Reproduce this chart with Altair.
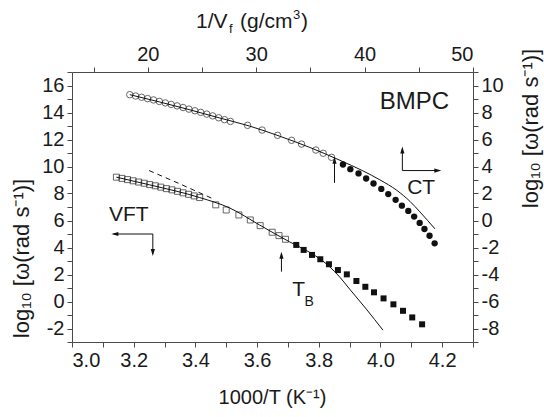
import altair as alt
import pandas as pd

# ---- VFT series (bottom axis 1000/T, left axis log10 omega) ----
vft_open_x = [3.144, 3.162, 3.180, 3.198, 3.216, 3.234, 3.252, 3.270, 3.288, 3.306, 3.324, 3.342,
              3.360, 3.378, 3.396, 3.414, 3.466, 3.500, 3.541, 3.578, 3.610, 3.649, 3.671, 3.692]
vft_open_y = [9.21, 9.12, 9.03, 8.94, 8.85, 8.76, 8.66, 8.57, 8.47, 8.36, 8.27, 8.16,
              8.05, 7.94, 7.82, 7.70, 7.16, 6.78, 6.41, 6.04, 5.62, 5.13, 4.88, 4.61]
vft_fill_x = [3.727, 3.751, 3.778, 3.805, 3.833, 3.862, 3.891, 3.922, 3.951, 3.979, 4.010, 4.042,
              4.073, 4.103, 4.135]
vft_fill_y = [4.19, 3.82, 3.45, 3.13, 2.76, 2.33, 2.01, 1.52, 1.09, 0.68, 0.23, -0.21,
              -0.69, -1.18, -1.69]
vft_fit_x = [3.144, 3.252, 3.414, 3.511, 3.608, 3.706, 3.754, 3.790, 3.835, 3.868, 3.900, 3.954, 4.008]
vft_fit_y = [9.21, 8.64, 7.70, 6.93, 5.67, 4.41, 3.85, 3.37, 2.58, 1.81, 0.92, -0.56, -2.12]
vft_dash_x = [3.250, 3.349, 3.453]
vft_dash_y = [9.70, 8.72, 7.65]

# ---- CT series (top axis 1/Vf, right axis log10 omega) ----
ct_open_x = [18.33, 18.87, 19.42, 19.97, 20.52, 21.06, 21.61, 22.15, 22.70, 23.25, 23.79, 24.34,
             24.88, 25.43, 25.98, 26.53, 27.07, 27.62, 29.20, 30.54, 31.97, 33.26, 34.18, 35.50,
             36.18, 36.95]
ct_open_y = [9.32, 9.22, 9.13, 9.03, 8.93, 8.82, 8.71, 8.60, 8.49, 8.37, 8.25, 8.13,
             8.01, 7.88, 7.75, 7.61, 7.47, 7.34, 7.05, 6.70, 6.31, 5.94, 5.66, 5.22,
             4.98, 4.68]
ct_fill_x = [38.00, 38.68, 39.44, 40.14, 40.82, 41.54, 42.18, 42.86, 43.44, 44.03, 44.57, 45.08,
             45.52, 45.99, 46.46]
ct_fill_y = [4.15, 3.80, 3.49, 3.11, 2.74, 2.34, 1.96, 1.53, 1.10, 0.71, 0.29, -0.18,
             -0.63, -1.13, -1.69]
ct_fit_x = [18.33, 21.10, 23.87, 26.64, 29.41, 32.18, 34.95, 37.72, 39.84, 41.41, 42.98, 44.18,
            45.10, 46.49]
ct_fit_y = [9.32, 8.78, 8.20, 7.59, 6.99, 6.24, 5.41, 4.46, 3.68, 3.01, 2.23, 1.42, 0.64, -0.62]

# ---- tick values ----
bottom_ticks = [round(3.0 + 0.1 * i, 1) for i in range(14)]
left_ticks = list(range(-3, 18))
top_ticks = list(range(15, 51, 5))
right_ticks = list(range(-9, 12))

# ---- annotations (in bottom/left data units) ----
labels_txt = ["BMPC", "CT", "VFT", "T"]
labels_x = [4.110, 4.132, 3.184, 3.735]
labels_y = [14.80, 8.42, 6.38, 0.85]
labels_size = [24, 21, 21, 21]
sub_txt = ["B"]
sub_x = [3.769]
sub_y = [-0.04]

# arrow shafts
shaft_x = [4.071, 4.071, 3.262, 3.262, 3.679, 3.851]
shaft_y = [9.70, 9.70, 5.00, 5.00, 2.21, 8.79]
shaft_x2 = [4.071, 4.190, 3.262, 3.135, 3.679, 3.851]
shaft_y2 = [11.30, 9.70, 3.55, 5.00, 3.50, 10.55]
# arrow heads
head_x = [4.071, 4.186, 3.139, 3.262, 3.679, 3.851]
head_y = [11.22, 9.70, 5.00, 3.63, 3.43, 10.46]
head_dir = ["up", "right", "left", "down", "up", "up"]

FONT = "Liberation Sans"
AX = "#4a4a4a"
TXT = "#1a1a1a"
INK = "#111111"
YTITLE = "log\u2081\u2080 [\u03c9(rad s\u207b\u00b9)]"

def axis_common(**kw):
    base = dict(grid=False, domainColor=AX, domainWidth=1, tickColor=AX, tickWidth=1, tickSize=5,
                labelFont=FONT, labelFontSize=20, labelColor=TXT, labelPadding=3,
                titleFont=FONT, titleFontSize=20, titleFontWeight="normal", titleColor=TXT)
    base.update(kw)
    return alt.Axis(**base)

ax_bottom = axis_common(orient="bottom", values=bottom_ticks,
                        labelExpr="round(datum.value*10) % 2 == 0 ? format(datum.value, '.1f') : ''",
                        title="1000/T (K\u207b\u00b9)", titleX=200, titleY=61,
                        titleBaseline="alphabetic", titleAlign="center", titleAngle=0)
ax_left = axis_common(orient="left", values=left_ticks,
                      labelExpr="datum.value % 2 == 0 ? '' + datum.value : ''",
                      title=YTITLE, titleFontSize=22, titleX=-44, titleY=186,
                      titleAngle=270, titleBaseline="alphabetic", titleAlign="center")
ax_top = axis_common(orient="top", values=top_ticks,
                     labelExpr="datum.value % 10 == 0 ? '' + datum.value : ''", title=None)
ax_right = axis_common(orient="right", values=right_ticks,
                       labelExpr="datum.value % 2 == 0 ? '' + datum.value : ''",
                       title=YTITLE, titleFontSize=22, titleX=64, titleY=56,
                       titleAngle=270, titleBaseline="alphabetic", titleAlign="center")

sx_b = alt.Scale(domain=[3.0, 4.3], nice=False, zero=False)
sy_l = alt.Scale(domain=[-3, 17], nice=False, zero=False)
sx_t = alt.Scale(domain=[13, 50], nice=False, zero=False)
sy_r = alt.Scale(domain=[-9, 11], nice=False, zero=False)

XB = alt.X("x:Q", scale=sx_b, axis=ax_bottom)
YL = alt.Y("y:Q", scale=sy_l, axis=ax_left)
XT = alt.X("x:Q", scale=sx_t, axis=ax_top)
YR = alt.Y("y:Q", scale=sy_r, axis=ax_right)

df = lambda xs, ys: pd.DataFrame({"x": xs, "y": ys})

vft_open = alt.Chart(df(vft_open_x, vft_open_y)).mark_point(
    shape="square", filled=False, color=INK, size=36, strokeWidth=0.9).encode(x=XB, y=YL)
vft_fill = alt.Chart(df(vft_fill_x, vft_fill_y)).mark_point(
    shape="square", filled=True, color=INK, size=36, opacity=1).encode(x=XB, y=YL)
vft_fit = alt.Chart(df(vft_fit_x, vft_fit_y)).mark_line(
    color=INK, strokeWidth=1, interpolate="monotone").encode(x=XB, y=YL)
vft_dash = alt.Chart(df(vft_dash_x, vft_dash_y)).mark_line(
    color=INK, strokeWidth=1, strokeDash=[5, 4]).encode(x=XB, y=YL)

lab_df = pd.DataFrame({"x": labels_x, "y": labels_y, "t": labels_txt, "s": labels_size})
labels = alt.Chart(lab_df).mark_text(font=FONT, color=TXT, align="center", baseline="middle").encode(
    x=XB, y=YL, text="t:N", size=alt.Size("s:Q", scale=None, legend=None))
sub = alt.Chart(pd.DataFrame({"x": sub_x, "y": sub_y, "t": sub_txt})).mark_text(
    font=FONT, color=TXT, fontSize=14, align="center", baseline="middle").encode(x=XB, y=YL, text="t:N")

shafts = alt.Chart(pd.DataFrame({"x": shaft_x, "y": shaft_y, "x2": shaft_x2, "y2": shaft_y2})).mark_rule(
    color=INK, strokeWidth=1).encode(x=XB, y=YL, x2="x2:Q", y2="y2:Q")

paths = {"up": "M-0.6,1L0,-1L0.6,1Z", "down": "M-0.6,-1L0,1L0.6,-1Z",
         "left": "M1,-0.6L-1,0L1,0.6Z", "right": "M-1,-0.6L1,0L-1,0.6Z"}
head_layers = []
for d in ["up", "down", "left", "right"]:
    xs = [hx for hx, hd in zip(head_x, head_dir) if hd == d]
    ys = [hy for hy, hd in zip(head_y, head_dir) if hd == d]
    head_layers.append(alt.Chart(df(xs, ys)).mark_point(
        shape=paths[d], filled=True, color=INK, size=49, opacity=1, strokeWidth=0).encode(x=XB, y=YL))

# top axis title composed with subscript / superscript
one = pd.DataFrame({"a": [0]})
def ttext(t, x, y, fs):
    return alt.Chart(one).mark_text(text=t, font=FONT, fontSize=fs, color=TXT, align="left",
                                    baseline="alphabetic").encode(x=alt.value(x), y=alt.value(y))
top_title = [ttext("1/V", 124, -44, 21), ttext("f", 157, -39, 13), ttext("(g/cm", 168, -44, 21),
             ttext("3", 221, -53, 13), ttext(")", 229, -44, 21)]

groupA = alt.layer(vft_fit, vft_dash, vft_open, vft_fill, shafts, *head_layers, labels, sub, *top_title)

ct_open = alt.Chart(df(ct_open_x, ct_open_y)).mark_point(
    shape="circle", filled=False, color=INK, size=42, strokeWidth=0.9).encode(x=XT, y=YR)
ct_fill = alt.Chart(df(ct_fill_x, ct_fill_y)).mark_point(
    shape="circle", filled=True, color=INK, size=40, opacity=1).encode(x=XT, y=YR)
ct_fit = alt.Chart(df(ct_fit_x, ct_fit_y)).mark_line(
    color=INK, strokeWidth=1, interpolate="monotone").encode(x=XT, y=YR)

groupB = alt.layer(ct_fit, ct_open, ct_fill)

chart = alt.layer(groupA, groupB).resolve_scale(x="independent", y="independent").properties(
    width=401, height=270,
    autosize=alt.AutoSizeParams(type="none"),
    padding={"left": 72, "top": 72, "right": 71, "bottom": 75},
    background="white",
).configure_view(stroke=None)

chart.save("out.html", embed_options={"renderer": "svg", "actions": False})
